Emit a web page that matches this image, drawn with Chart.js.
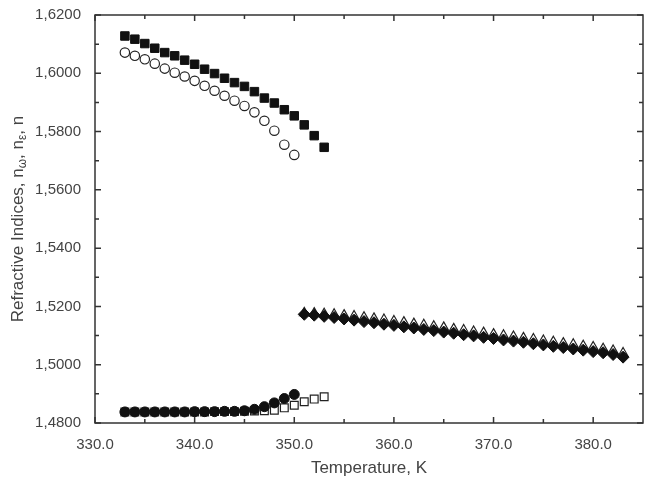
<!DOCTYPE html>
<html>
<head>
<meta charset="utf-8">
<script src="https://cdn.jsdelivr.net/npm/chart.js@4/dist/chart.umd.min.js"></script>
<style>
  html, body { margin: 0; padding: 0; background: #fff; }
  #wrap { width: 650px; height: 483px; }
</style>
</head>
<body>
<div id="wrap"><canvas id="riChart" width="650" height="483"></canvas></div>
<script>
// верхняя ветка (ниже перехода)
const tUpper = [333, 334, 335, 336, 337, 338, 339, 340, 341, 342, 343, 344, 345, 346, 347, 348, 349, 350, 351, 352, 353];
const nSquaresUpper = [1.6128, 1.6117, 1.6102, 1.6086, 1.6071, 1.6060, 1.6045, 1.6031, 1.6014, 1.5999, 1.5983,
  1.5968, 1.5955, 1.5937, 1.5915, 1.5898, 1.5875, 1.5854, 1.5823, 1.5786, 1.5746];
const nCirclesUpper = [1.6071, 1.6060, 1.6048, 1.6033, 1.6016, 1.6002, 1.5989, 1.5974, 1.5957, 1.5940, 1.5923,
  1.5906, 1.5888, 1.5866, 1.5837, 1.5803, 1.5755, 1.5720];

// нижняя ветка
const tLower = [333, 334, 335, 336, 337, 338, 339, 340, 341, 342, 343, 344, 345, 346, 347, 348, 349, 350, 351, 352, 353];
const nCirclesLower = [1.4838, 1.4838, 1.4838, 1.4838, 1.4838, 1.4838, 1.4838, 1.4839, 1.4839, 1.4839, 1.4840,
  1.4840, 1.4842, 1.4847, 1.4856, 1.4869, 1.4884, 1.4898];
const nSquaresLower = [1.4838, 1.4838, 1.4838, 1.4838, 1.4838, 1.4838, 1.4838, 1.4838, 1.4838, 1.4839, 1.4839,
  1.4839, 1.4840, 1.4841, 1.4842, 1.4844, 1.4852, 1.4861, 1.4873, 1.4882, 1.4890];

// высокотемпературная фаза
const tHigh = [351, 352, 353, 354, 355, 356, 357, 358, 359, 360, 361, 362, 363, 364, 365, 366, 367,
  368, 369, 370, 371, 372, 373, 374, 375, 376, 377, 378, 379, 380, 381, 382, 383];
const nDiamonds = [1.5173, 1.5170, 1.5166, 1.5162, 1.5157, 1.5153, 1.5148, 1.5144, 1.5139, 1.5135, 1.5130,
  1.5126, 1.5121, 1.5117, 1.5112, 1.5108, 1.5103, 1.5099, 1.5094, 1.5090, 1.5085, 1.5081, 1.5077,
  1.5072, 1.5068, 1.5063, 1.5059, 1.5054, 1.5050, 1.5045, 1.5041, 1.5035, 1.5026];
const nTriangles = [1.5178, 1.5177, 1.5175, 1.5173, 1.5170, 1.5167, 1.5163, 1.5159, 1.5155, 1.5150, 1.5146,
  1.5141, 1.5137, 1.5132, 1.5128, 1.5123, 1.5119, 1.5114, 1.5110, 1.5105, 1.5101, 1.5097, 1.5092,
  1.5088, 1.5083, 1.5079, 1.5074, 1.5070, 1.5065, 1.5061, 1.5055, 1.5049, 1.5040];

const xTicks = [330, 340, 350, 360, 370, 380];
const xMinor = [335, 345, 355, 365, 375];
const yTicks = [1.48, 1.50, 1.52, 1.54, 1.56, 1.58, 1.60, 1.62];
const yMinor = [1.49, 1.51, 1.53, 1.55, 1.57, 1.59, 1.61];

const pts = (xs, ys) => ys.map((y, i) => ({ x: xs[i], y: y }));

const textColor = '#444';
const fontFamily = '"Liberation Sans", Arial, sans-serif';

// рамка и внутренние засечки на всех четырёх сторонах
const framePlugin = {
  id: 'frame',
  afterDraw(chart) {
    const { ctx, chartArea: a, scales: { x, y } } = chart;
    ctx.save();
    ctx.strokeStyle = '#333';
    ctx.lineWidth = 1.5;
    ctx.strokeRect(a.left, a.top, a.right - a.left, a.bottom - a.top);
    ctx.beginPath();
    const vt = (v, len) => {
      const px = x.getPixelForValue(v);
      ctx.moveTo(px, a.bottom); ctx.lineTo(px, a.bottom - len);
      ctx.moveTo(px, a.top); ctx.lineTo(px, a.top + len);
    };
    const ht = (v, len) => {
      const py = y.getPixelForValue(v);
      ctx.moveTo(a.left, py); ctx.lineTo(a.left + len, py);
      ctx.moveTo(a.right, py); ctx.lineTo(a.right - len, py);
    };
    xTicks.forEach(v => vt(v, 6));
    xMinor.forEach(v => vt(v, 4));
    yTicks.forEach(v => ht(v, 6));
    yMinor.forEach(v => ht(v, 4));
    ctx.stroke();

    // подпись оси Y с индексами
    ctx.translate(18, (a.top + a.bottom) / 2);
    ctx.rotate(-Math.PI / 2);
    ctx.fillStyle = textColor;
    ctx.textBaseline = 'middle';
    const parts = [['Refractive Indices, n', 0], ['\u03C9', 1], [', n', 0], ['\u03B5', 1], [', n', 0]];
    const big = '17px ' + fontFamily, small = '12px ' + fontFamily;
    let w = 0;
    parts.forEach(p => { ctx.font = p[1] ? small : big; w += ctx.measureText(p[0]).width; });
    let cx = -w / 2;
    parts.forEach(p => {
      ctx.font = p[1] ? small : big;
      ctx.fillText(p[0], cx, p[1] ? 5 : 0);
      cx += ctx.measureText(p[0]).width;
    });
    ctx.restore();
  }
};

// первый набор рисуется поверх остальных
new Chart(document.getElementById('riChart'), {
  type: 'scatter',
  data: {
    datasets: [
      { data: pts(tHigh, nDiamonds), pointStyle: 'rectRot', pointRadius: 6, backgroundColor: '#111', borderColor: '#111', borderWidth: 1 },
      { data: pts(tHigh, nTriangles), pointStyle: 'triangle', pointRadius: 5.5, backgroundColor: '#fff', borderColor: '#222', borderWidth: 1.2 },
      { data: pts(tUpper, nSquaresUpper), pointStyle: 'rect', pointRadius: 6, backgroundColor: '#111', borderColor: '#111', borderWidth: 1 },
      { data: pts(tUpper, nCirclesUpper), pointStyle: 'circle', pointRadius: 4.7, backgroundColor: '#fff', borderColor: '#222', borderWidth: 1.2 },
      { data: pts(tLower, nCirclesLower), pointStyle: 'circle', pointRadius: 5, backgroundColor: '#111', borderColor: '#111', borderWidth: 1 },
      { data: pts(tLower, nSquaresLower), pointStyle: 'rect', pointRadius: 5.5, backgroundColor: '#fff', borderColor: '#222', borderWidth: 1.2 }
    ]
  },
  options: {
    responsive: false,
    animation: false,
    events: [],
    layout: { padding: { top: 14, right: 3, left: 0, bottom: 0 } },
    plugins: { legend: { display: false }, tooltip: { enabled: false } },
    scales: {
      x: {
        type: 'linear',
        min: 330,
        max: 385,
        afterBuildTicks: s => { s.ticks = xTicks.map(v => ({ value: v })); },
        afterFit: s => { s.height = 60; },
        grid: { display: false },
        border: { display: false },
        ticks: {
          padding: 5,
          color: textColor,
          font: { family: fontFamily, size: 15 },
          callback: v => v.toFixed(1)
        },
        title: {
          display: true,
          text: 'Temperature, K',
          color: textColor,
          font: { family: fontFamily, size: 17 },
          padding: { top: 6 }
        }
      },
      y: {
        type: 'linear',
        min: 1.48,
        max: 1.62,
        afterBuildTicks: s => { s.ticks = yTicks.map(v => ({ value: v })); },
        afterFit: s => { s.width = 95; },
        grid: { display: false },
        border: { display: false },
        ticks: {
          padding: 6,
          color: textColor,
          font: { family: fontFamily, size: 15 },
          callback: v => v.toFixed(4).replace('.', ',')
        }
      }
    }
  },
  plugins: [framePlugin]
});
</script>
</body>
</html>
